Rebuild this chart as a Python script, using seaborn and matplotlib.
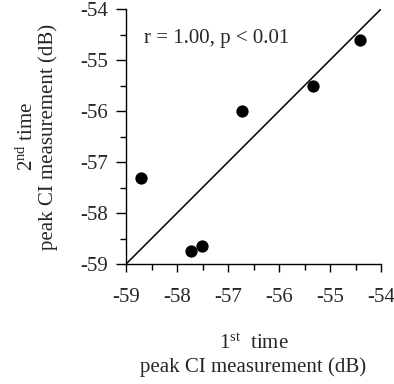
import matplotlib
matplotlib.use('Agg')

import matplotlib.pyplot as plt
from matplotlib.ticker import MultipleLocator
import pandas as pd
import seaborn as sns

# values
first_time = [-58.7, -57.72, -57.52, -56.72, -55.33, -54.42]
second_time = [-57.32, -58.75, -58.65, -56.0, -55.5, -54.6]
ticks = [-59, -58, -57, -56, -55, -54]
annotation = 'r = 1.00, p < 0.01'

sns.set_style('ticks')
plt.rcParams['font.family'] = ['Liberation Serif', 'DejaVu Serif']
plt.rcParams['mathtext.fontset'] = 'custom'
plt.rcParams['mathtext.rm'] = 'Liberation Serif'
plt.rcParams['mathtext.default'] = 'regular'
plt.rcParams['axes.unicode_minus'] = False

df = pd.DataFrame({'first': first_time, 'second': second_time})

fig = plt.figure(figsize=(3.94, 3.84), dpi=100)
ax = fig.add_axes([0.320, 0.3125, 0.647, 0.664])

# identity line
ax.plot([ticks[0], ticks[-1]], [ticks[0], ticks[-1]], color='black', lw=1.1, zorder=1)
sns.scatterplot(data=df, x='first', y='second', ax=ax, s=78, color='black',
                edgecolor='black', linewidth=0, zorder=3, clip_on=False)

ax.set_xlim(ticks[0], ticks[-1])
ax.set_ylim(ticks[0], ticks[-1])
ax.set_xticks(ticks)
ax.set_yticks(ticks)
ax.xaxis.set_minor_locator(MultipleLocator(0.5))
ax.yaxis.set_minor_locator(MultipleLocator(0.5))
ax.tick_params(which='major', direction='out', width=1, color='black', labelsize=15)
ax.tick_params(axis='x', which='major', length=6, pad=11)
ax.tick_params(axis='y', which='major', length=7, pad=6)
ax.tick_params(which='minor', direction='out', length=4, width=1, color='black')
sns.despine(ax=ax)
for side in ['left', 'bottom']:
    ax.spines[side].set_color('black')
    ax.spines[side].set_linewidth(1)

ax.set_xlabel('1$^{st}$  time\npeak CI measurement (dB)', fontsize=15, labelpad=20,
              linespacing=1.25)
ax.set_ylabel('2$^{nd}$ time\npeak CI measurement (dB)', fontsize=15, labelpad=16,
              linespacing=1.0)

ax.text(0.07, 0.885, annotation, transform=ax.transAxes, fontsize=15, ha='left', va='center')

plt.savefig('out.png', dpi=100)
plt.close()
